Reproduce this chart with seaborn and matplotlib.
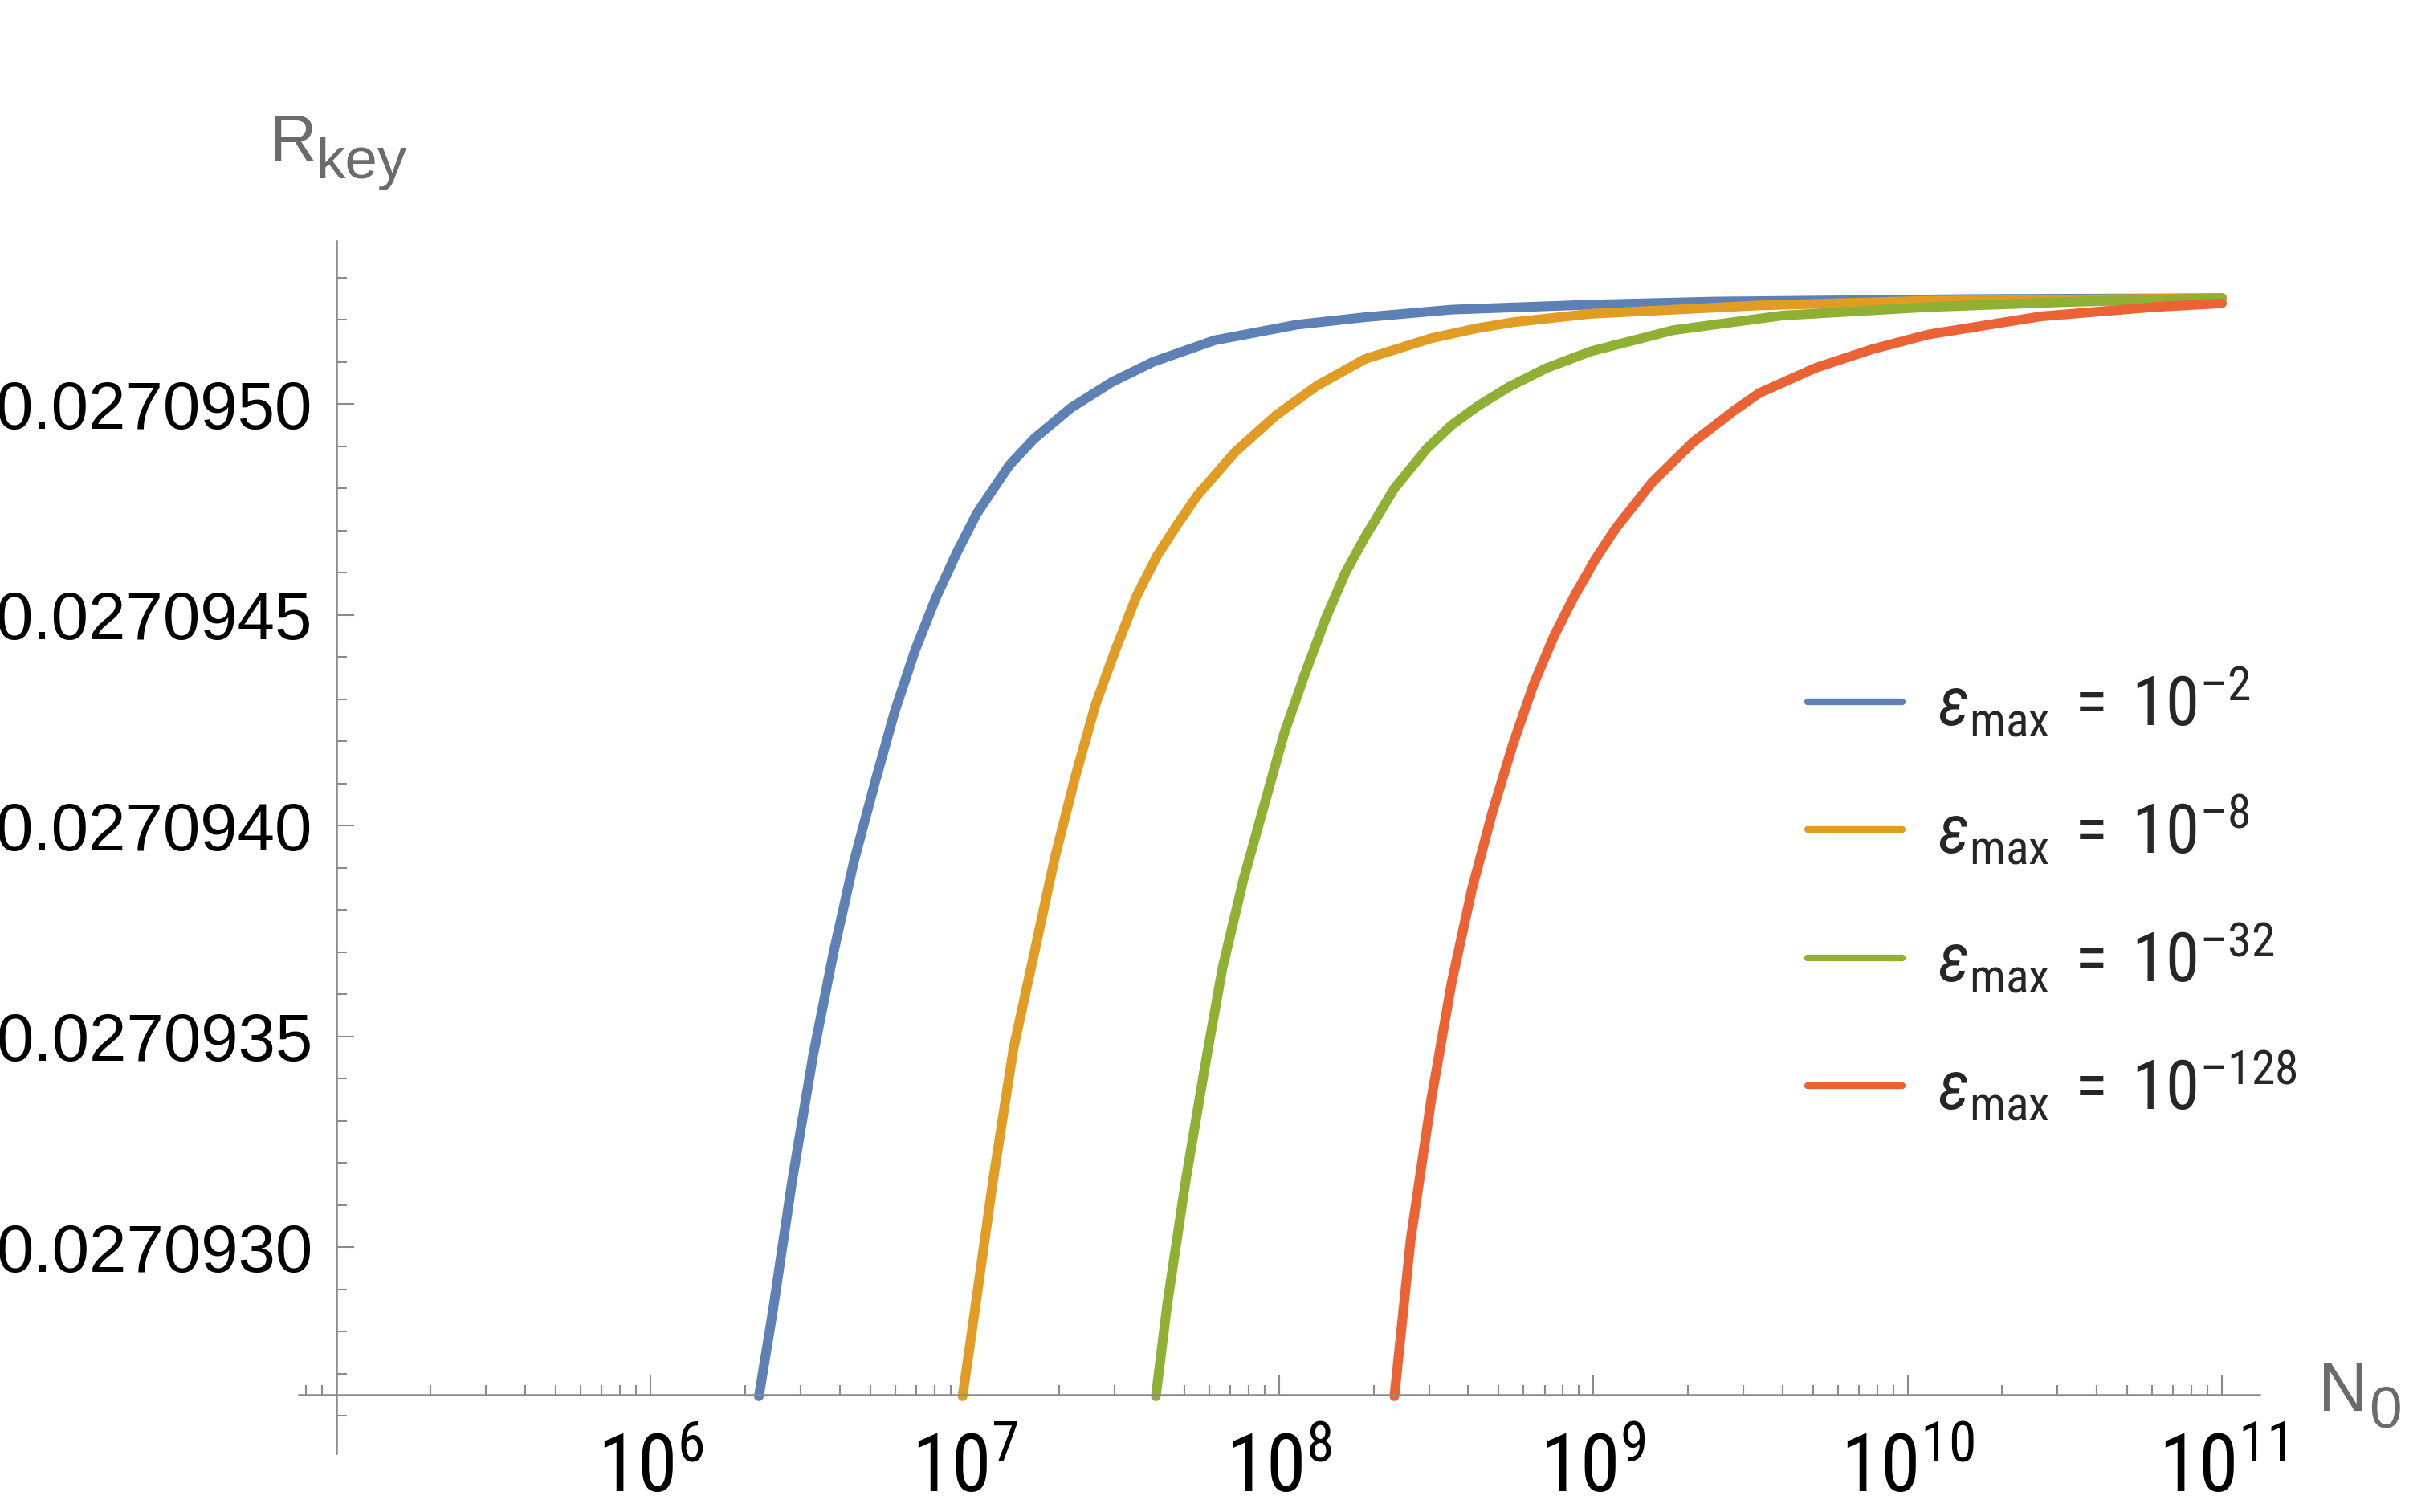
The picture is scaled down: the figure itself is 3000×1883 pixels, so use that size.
import numpy as np
import pandas as pd
import matplotlib
matplotlib.use('Agg')
import matplotlib.pyplot as plt
import seaborn as sns
from matplotlib import font_manager
from matplotlib.ticker import LogLocator, NullFormatter

# values (x as log10 N0, y as R_key)
blue_logn = [6.345, 6.389, 6.451, 6.517, 6.582, 6.647, 6.712, 6.777, 6.843, 6.908,
             6.973, 7.038, 7.142, 7.221, 7.338, 7.468, 7.599, 7.794, 8.055, 8.274,
             8.550, 9.000, 9.387, 10.20, 11.0]
blue_r = [0.027092646, 0.027092846, 0.027093158, 0.027093453, 0.027093697, 0.027093914,
          0.027094096, 0.027094270, 0.027094418, 0.027094540, 0.027094645, 0.027094740,
          0.027094855, 0.027094918, 0.027094991, 0.027095052, 0.027095100, 0.027095151,
          0.027095188, 0.027095206, 0.027095224, 0.027095236, 0.027095243, 0.027095249,
          0.027095251]

orange_logn = [6.993, 7.028, 7.090, 7.155, 7.221, 7.286, 7.351, 7.416, 7.481, 7.547,
               7.612, 7.677, 7.742, 7.860, 7.990, 8.120, 8.274, 8.484, 8.632, 8.745,
               8.990, 9.528, 10.066, 11.0]
orange_r = [0.027092646, 0.027092828, 0.027093158, 0.027093471, 0.027093697, 0.027093922,
            0.027094114, 0.027094287, 0.027094420, 0.027094545, 0.027094640, 0.027094715,
            0.027094785, 0.027094886, 0.027094973, 0.027095043, 0.027095107, 0.027095156,
            0.027095180, 0.027095194, 0.027095214, 0.027095234, 0.027095245, 0.027095251]

green_logn = [7.608, 7.644, 7.703, 7.762, 7.820, 7.886, 7.951, 8.016, 8.081, 8.146,
              8.211, 8.274, 8.367, 8.471, 8.549, 8.632, 8.730, 8.850, 8.992, 9.253,
              9.602, 10.066, 10.5, 11.0]
green_r = [0.027092646, 0.027092863, 0.027093158, 0.027093419, 0.027093662, 0.027093870,
           0.027094044, 0.027094218, 0.027094357, 0.027094487, 0.027094600, 0.027094685,
           0.027094800, 0.027094895, 0.027094950, 0.027094995, 0.027095040, 0.027095085,
           0.027095125, 0.027095175, 0.027095210, 0.027095230, 0.027095242, 0.027095251]

red_logn = [8.367, 8.419, 8.484, 8.549, 8.614, 8.680, 8.745, 8.810, 8.875, 8.940,
            9.005, 9.071, 9.188, 9.318, 9.449, 9.528, 9.708, 9.887, 10.066, 10.425,
            10.783, 11.0]
red_r = [0.027092646, 0.027093019, 0.027093349, 0.027093627, 0.027093850, 0.027094035,
         0.027094195, 0.027094335, 0.027094450, 0.027094545, 0.027094630, 0.027094705,
         0.027094815, 0.027094910, 0.027094985, 0.027095026, 0.027095086, 0.027095130,
         0.027095165, 0.027095208, 0.027095230, 0.027095239]

series_labels = [r'$\varepsilon_{\mathrm{max}}\;=\;10^{–2}$',
                 r'$\varepsilon_{\mathrm{max}}\;=\;10^{–8}$',
                 r'$\varepsilon_{\mathrm{max}}\;=\;10^{–32}$',
                 r'$\varepsilon_{\mathrm{max}}\;=\;10^{–128}$']
colors = ['#5E81B5', '#E19C24', '#8FB032', '#EB6235']

x_exponents = [6, 7, 8, 9, 10, 11]
y_major = [0.0270930, 0.0270935, 0.0270940, 0.0270945, 0.0270950]
y_major_labels = ['0.0270930', '0.0270935', '0.0270940', '0.0270945', '0.0270950']


def condensed_font():
    # narrow face for the Mathematica-like tick and legend labels, if any
    fl = font_manager.fontManager.ttflist
    names = {f.name for f in fl}
    for p in ['Liberation Sans Narrow', 'Roboto Condensed', 'Open Sans Condensed',
              'Noto Sans Condensed', 'DejaVu Sans Condensed', 'Arial Narrow']:
        if p in names:
            return p
    for f in fl:
        if f.stretch in ('condensed', 'semi-condensed') and f.style == 'normal':
            return f'{f.name}:stretch={f.stretch}'
    return 'Liberation Sans'


sns.set_style('white')
narrow = condensed_font()
plt.rcParams['font.family'] = ['Liberation Sans', 'DejaVu Sans']
plt.rcParams['mathtext.fontset'] = 'custom'
plt.rcParams['mathtext.rm'] = narrow
plt.rcParams['mathtext.it'] = narrow + ':style=italic'
plt.rcParams['mathtext.bf'] = narrow + ':weight=bold'

frames = []
for lab, logn, r in zip(series_labels,
                        [blue_logn, orange_logn, green_logn, red_logn],
                        [blue_r, orange_r, green_r, red_r]):
    frames.append(pd.DataFrame({'N0': 10.0 ** np.array(logn), 'R': r, 'eps': lab}))
df = pd.concat(frames, ignore_index=True)

fig = plt.figure(figsize=(10, 1883 / 300), dpi=300)
ax = fig.add_axes([0.1239, 0.03877, 0.8141, 0.8019])
ax.patch.set_alpha(0)

sns.lineplot(data=df, x='N0', y='R', hue='eps', palette=colors, sort=False,
             estimator=None, linewidth=2.9, ax=ax)
for line in ax.get_lines():
    line.set_solid_joinstyle('round')

ax.set_xscale('log')
ax.set_xlim(10 ** 4.88, 10 ** 11.12)
ax.set_ylim(0.0270925105, 0.027095387)
ax.set_xlabel('')
ax.set_ylabel('')

axis_col = '#8a8a8a'
for s in ['top', 'right']:
    ax.spines[s].set_visible(False)
ax.spines['left'].set_position(('data', 1e5))
ax.spines['bottom'].set_position(('data', 0.02709265))
for s in ['left', 'bottom']:
    ax.spines[s].set_color(axis_col)
    ax.spines[s].set_linewidth(0.6)

# x ticks
ax.set_xticks([10.0 ** e for e in x_exponents],
              labels=[r'$10^{%d}$' % e for e in x_exponents])
ax.xaxis.set_minor_locator(LogLocator(base=10, subs=np.arange(2, 10), numticks=40))
ax.xaxis.set_minor_formatter(NullFormatter())
ax.tick_params(axis='x', which='major', bottom=True, direction='in', length=5.8,
               width=0.5, color=axis_col, pad=11.5, labelsize=24, labelcolor='black')
ax.tick_params(axis='x', which='minor', bottom=True, direction='in', length=2.9,
               width=0.5, color=axis_col)

# y ticks
ax.set_yticks(y_major, labels=y_major_labels)
ax.set_yticks([0.02709 + k * 1e-7 for k in range(26, 54)], minor=True)
ax.tick_params(axis='y', which='major', left=True, direction='in', length=5.3,
               width=0.5, color=axis_col, pad=7, labelsize=20, labelcolor='black')
ax.tick_params(axis='y', which='minor', left=True, direction='in', length=3.1,
               width=0.5, color=axis_col)

# axis labels
lab_col = '#6b6b6b'
fig.text(335 / 3000, 1 - 200 / 1883, 'R', fontsize=19.5, color=lab_col,
         ha='left', va='baseline')
fig.text(393 / 3000, 1 - 222 / 1883, 'key', fontsize=17.5, color=lab_col,
         ha='left', va='baseline')
fig.text(2887 / 3000, 1 - 1757 / 1883, 'N', fontsize=20.5, color=lab_col,
         ha='left', va='baseline')
fig.text(2950 / 3000, 1 - 1777 / 1883, '0', fontsize=17.5, color=lab_col,
         ha='left', va='baseline')

# legend
handles, labels = ax.get_legend_handles_labels()
leg = ax.legend(handles, labels, loc='center left',
                bbox_to_anchor=(2251 / 3000, 1 - 1114.5 / 1883),
                bbox_transform=fig.transFigure, frameon=False, fontsize=20.5,
                handlelength=1.38, handletextpad=0.52, labelspacing=0.78,
                borderpad=0, borderaxespad=0)
for line in leg.get_lines():
    line.set_linewidth(2.0)

fig.savefig('out.png', dpi=300)
